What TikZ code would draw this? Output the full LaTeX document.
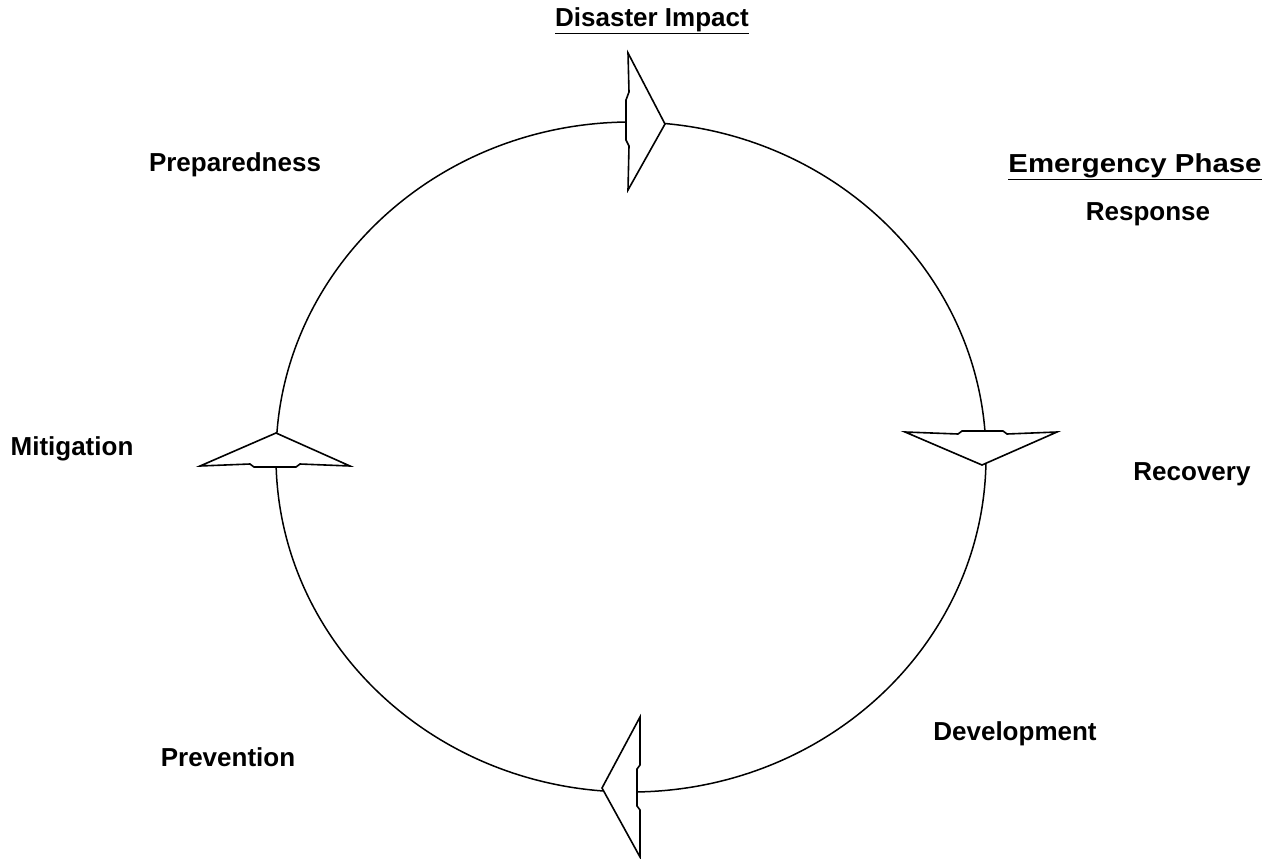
\documentclass[tikz,border=0pt]{standalone}
\usepackage{fontspec}
\setmainfont{Liberation Sans}
\begin{document}
\begin{tikzpicture}[x=1pt,y=-1pt,
  lbl/.style={inner sep=0pt,font=\fontsize{26}{30}\selectfont\bfseries},
  arr/.style={draw=black,fill=white,line width=1.6pt,line join=miter},
  cyc/.style={draw=black,line width=1.5pt}]
\useasboundingbox[fill=white] (0,0) rectangle (1270,859);
% cycle
\draw[cyc] (631,457) ellipse [x radius=355, y radius=335];
% arrows
\draw[arr] (628,53) -- (629,92) -- (626,100) -- (626,140) -- (629,146) -- (628,190) -- (665,124) -- cycle;
\draw[arr] (905,432) -- (958,434) -- (962,431) -- (1003,431) -- (1007,434) -- (1057,432) -- (982,465) -- cycle;
\draw[arr] (200,466) -- (250,464) -- (254,467) -- (296,467) -- (300,464) -- (350,466) -- (276,433) -- cycle;
\draw[arr] (640,717) -- (640,765) -- (637,769) -- (637,806) -- (640,810) -- (640,857) -- (602,788) -- cycle;
% labels
\node[lbl] (impact) at (652,21) {\underline{Disaster Impact}};
\node[lbl] (prep) at (235,165) {Preparedness};
\node[lbl] (emerg) at (1135,167) {\scalebox{1.13}[1]{\underline{Emergency Phase}}};
\node[lbl] (resp) at (1148,214) {Response};
\node[lbl] (mitig) at (72,449) {Mitigation};
\node[lbl] (recov) at (1192,474) {Recovery};
\node[lbl] (devel) at (1015,734) {Development};
\node[lbl] (prev) at (228,757) {Prevention};
\end{tikzpicture}
\end{document}
